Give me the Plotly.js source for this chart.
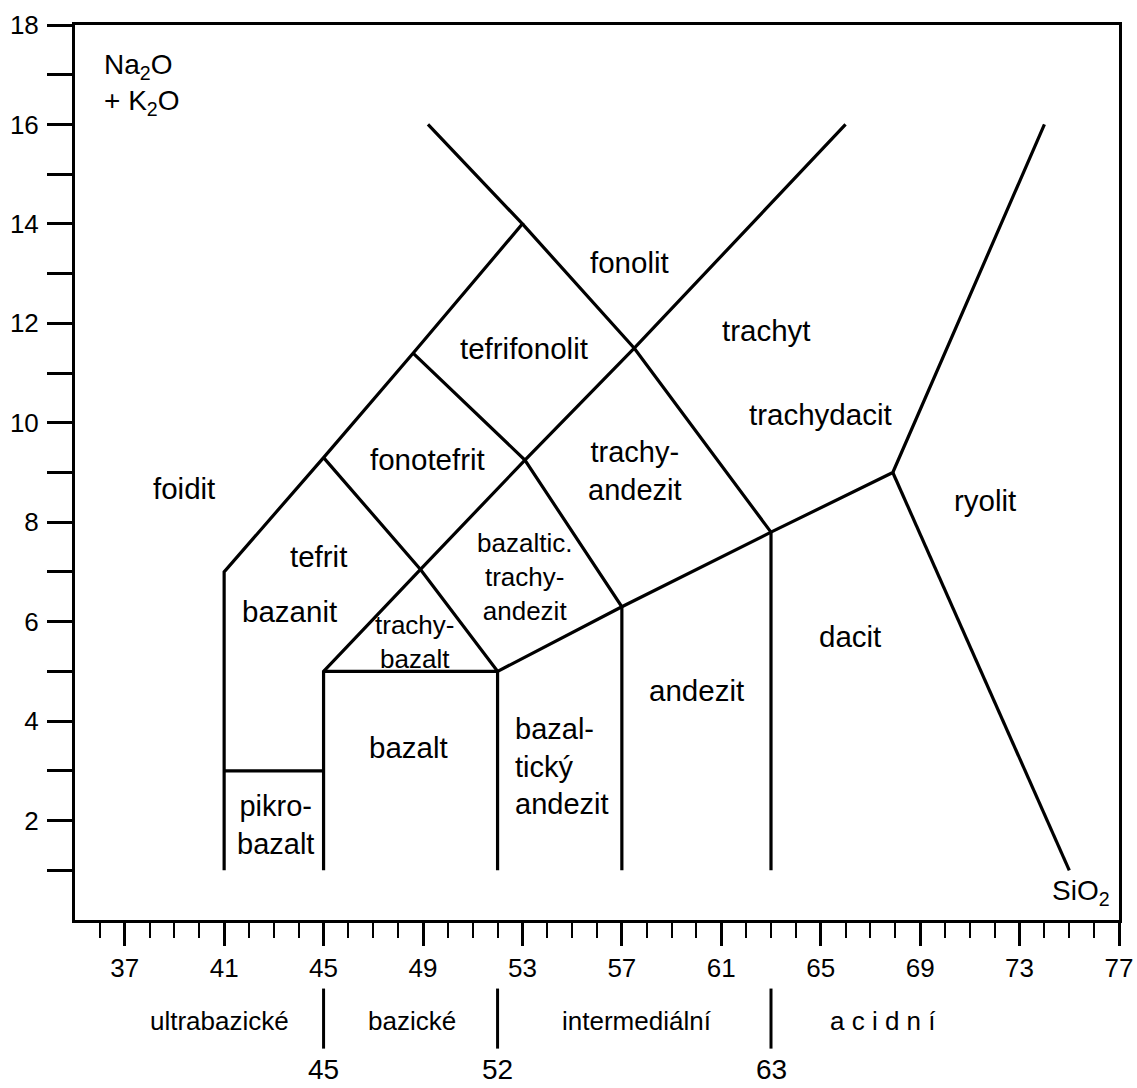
<!DOCTYPE html>
<html>
<head>
<meta charset="utf-8">
<script src="https://cdn.plot.ly/plotly-3.0.1.min.js"></script>
<style>html,body{margin:0;padding:0;background:#fff;}#chart{width:1137px;height:1088px;}</style>
</head>
<body>
<div id="chart"></div>
<script>
// ---- Boundary polylines of the TAS diagram (SiO2, Na2O+K2O) ----
const bFoiditX = [41, 41, 45, 48.6, 53, 49.2];
const bFoiditY = [1, 7, 9.3, 11.4, 14, 16];
const bFonolitX = [53, 57.5, 63, 63];
const bFonolitY = [14, 11.5, 7.8, 1];
const bTrachytX = [45, 45, 48.9, 53.1, 57.5, 66];
const bTrachytY = [1, 5, 7.05, 9.25, 11.5, 16];
const bTefritX = [45, 48.9, 52, 52];
const bTefritY = [9.3, 7.05, 5, 1];
const bBazaltTopX = [45, 52, 57, 63, 67.9, 74];
const bBazaltTopY = [5, 5, 6.3, 7.8, 9, 16];
const bRyolitX = [67.9, 75];
const bRyolitY = [9, 1];
const bFonotefritX = [48.6, 53.1, 57, 57];
const bFonotefritY = [11.4, 9.25, 6.3, 1];
const bPikroX = [41, 45];
const bPikroY = [3, 3];

// ---- Field labels ----
const labelText = ['foidit', 'fonolit', 'tefrifonolit', 'trachyt', 'trachydacit', 'ryolit',
  'fonotefrit', 'trachy-<br>andezit', 'tefrit', 'bazanit', 'bazaltic.<br>trachy-<br>andezit',
  'trachy-<br>bazalt', 'bazalt', 'bazal-<br>tický<br>andezit', 'andezit', 'dacit', 'pikro-<br>bazalt'];
const labelX = [39.4, 57.3, 53.06, 62.83, 65.0, 71.59, 49.19, 57.52, 44.79, 43.62, 53.07,
  48.67, 48.42, 52.62, 60.0, 66.18, 43.08];
const labelY = [8.68, 13.23, 11.5, 11.86, 10.17, 8.44, 9.27, 9.04, 7.31, 6.21, 6.89,
  5.6, 3.47, 3.09, 4.62, 5.7, 1.92];
const labelSize = [29.5, 29.5, 29.5, 29.5, 29.5, 29.5, 29.5, 29, 29.5, 29.5, 26, 26, 29.5, 29, 29.5, 29.5, 29];
const labelAnchor = ['center', 'center', 'center', 'center', 'center', 'center', 'center', 'center',
  'center', 'center', 'center', 'center', 'center', 'left', 'center', 'center', 'center'];

// ---- Axis ticks ----
const yTickVals = [2, 4, 6, 8, 10, 12, 14, 16, 18];
const yTickText = ['2', '4', '6', '8', '10', '12', '14', '16', '18'];
const yMinorVals = [1, 3, 5, 7, 9, 11, 13, 15, 17];
const xTickVals = [37, 41, 45, 49, 53, 57, 61, 65, 69, 73, 77];
const xTickText = ['37', '41', '45', '49', '53', '57', '61', '65', '69', '73', '77'];
const xMinorVals = [];
for (let v = 36; v < 77; v++) { if (xTickVals.indexOf(v) < 0) xMinorVals.push(v); }

// ---- Rock categories by SiO2 ----
const catNames = ['ultrabazické', 'bazické', 'intermediální', 'a c i d n í'];
const catX = [40.82, 48.55, 57.6, 67.49];
const catBounds = [45, 52, 63];

const FONT = 'Liberation Sans, Arial, Helvetica, sans-serif';
const lineStyle = {color: '#000', width: 3.2};
const polylines = [
  [bFoiditX, bFoiditY], [bFonolitX, bFonolitY], [bTrachytX, bTrachytY], [bTefritX, bTefritY],
  [bBazaltTopX, bBazaltTopY], [bRyolitX, bRyolitY], [bFonotefritX, bFonotefritY], [bPikroX, bPikroY]
];
const traces = polylines.map(p => ({
  x: p[0], y: p[1], type: 'scatter', mode: 'lines', line: lineStyle,
  hoverinfo: 'skip', showlegend: false
}));

const annotations = [];
for (let i = 0; i < labelText.length; i++) {
  annotations.push({
    x: labelX[i], y: labelY[i], xref: 'x', yref: 'y', text: labelText[i], showarrow: false,
    xanchor: labelAnchor[i], yanchor: 'middle', align: labelAnchor[i] === 'left' ? 'left' : 'center',
    font: {family: FONT, size: labelSize[i], color: '#000'}
  });
}
annotations.push({
  x: 36.1, y: 16.8, xref: 'x', yref: 'y', xanchor: 'left', yanchor: 'middle', align: 'left',
  text: 'Na<sub>2</sub>O<br>+ K<sub>2</sub>O', showarrow: false,
  font: {family: FONT, size: 28, color: '#000'}
});
annotations.push({
  x: 75.47, y: 0.55, xref: 'x', yref: 'y', xanchor: 'center', yanchor: 'middle',
  text: 'SiO<sub>2</sub>', showarrow: false, font: {family: FONT, size: 28, color: '#000'}
});
for (let i = 0; i < catNames.length; i++) {
  annotations.push({
    x: catX[i], y: -0.1124, xref: 'x', yref: 'paper', xanchor: 'center', yanchor: 'middle',
    text: catNames[i], showarrow: false, font: {family: FONT, size: 26, color: '#000'}
  });
}
const shapes = [];
for (let i = 0; i < catBounds.length; i++) {
  shapes.push({
    type: 'line', xref: 'x', yref: 'paper', x0: catBounds[i], x1: catBounds[i],
    y0: -0.0766, y1: -0.1437, line: {color: '#000', width: 3}
  });
  annotations.push({
    x: catBounds[i], y: -0.1665, xref: 'x', yref: 'paper', xanchor: 'center', yanchor: 'middle',
    text: String(catBounds[i]), showarrow: false, font: {family: FONT, size: 28, color: '#000'}
  });
}

const layout = {
  width: 1137, height: 1088,
  margin: {l: 75, r: 18, t: 25, b: 168, pad: 0},
  paper_bgcolor: '#fff', plot_bgcolor: '#fff',
  font: {family: FONT, color: '#000'},
  showlegend: false,
  xaxis: {
    range: [35, 77], showgrid: false, zeroline: false,
    showline: true, mirror: true, linecolor: '#000', linewidth: 3,
    tickmode: 'array', tickvals: xTickVals, ticktext: xTickText,
    ticks: 'outside', ticklen: 23, tickwidth: 3, tickcolor: '#000',
    tickfont: {family: FONT, size: 26, color: '#000'}, ticklabelstandoff: 0,
    minor: {tickmode: 'array', tickvals: xMinorVals, ticks: 'outside', ticklen: 15, tickwidth: 2, tickcolor: '#000', showgrid: false},
    fixedrange: true
  },
  yaxis: {
    range: [0, 18], showgrid: false, zeroline: false,
    showline: true, mirror: true, linecolor: '#000', linewidth: 3,
    tickmode: 'array', tickvals: yTickVals, ticktext: yTickText,
    ticks: 'outside', ticklen: 25, tickwidth: 3, tickcolor: '#000',
    tickfont: {family: FONT, size: 26, color: '#000'}, ticklabelstandoff: 3,
    minor: {tickmode: 'array', tickvals: yMinorVals, ticks: 'outside', ticklen: 25, tickwidth: 3, tickcolor: '#000', showgrid: false},
    fixedrange: true
  },
  annotations: annotations,
  shapes: shapes
};

Plotly.newPlot('chart', traces, layout, {displayModeBar: false, staticPlot: true});
</script>
</body>
</html>
